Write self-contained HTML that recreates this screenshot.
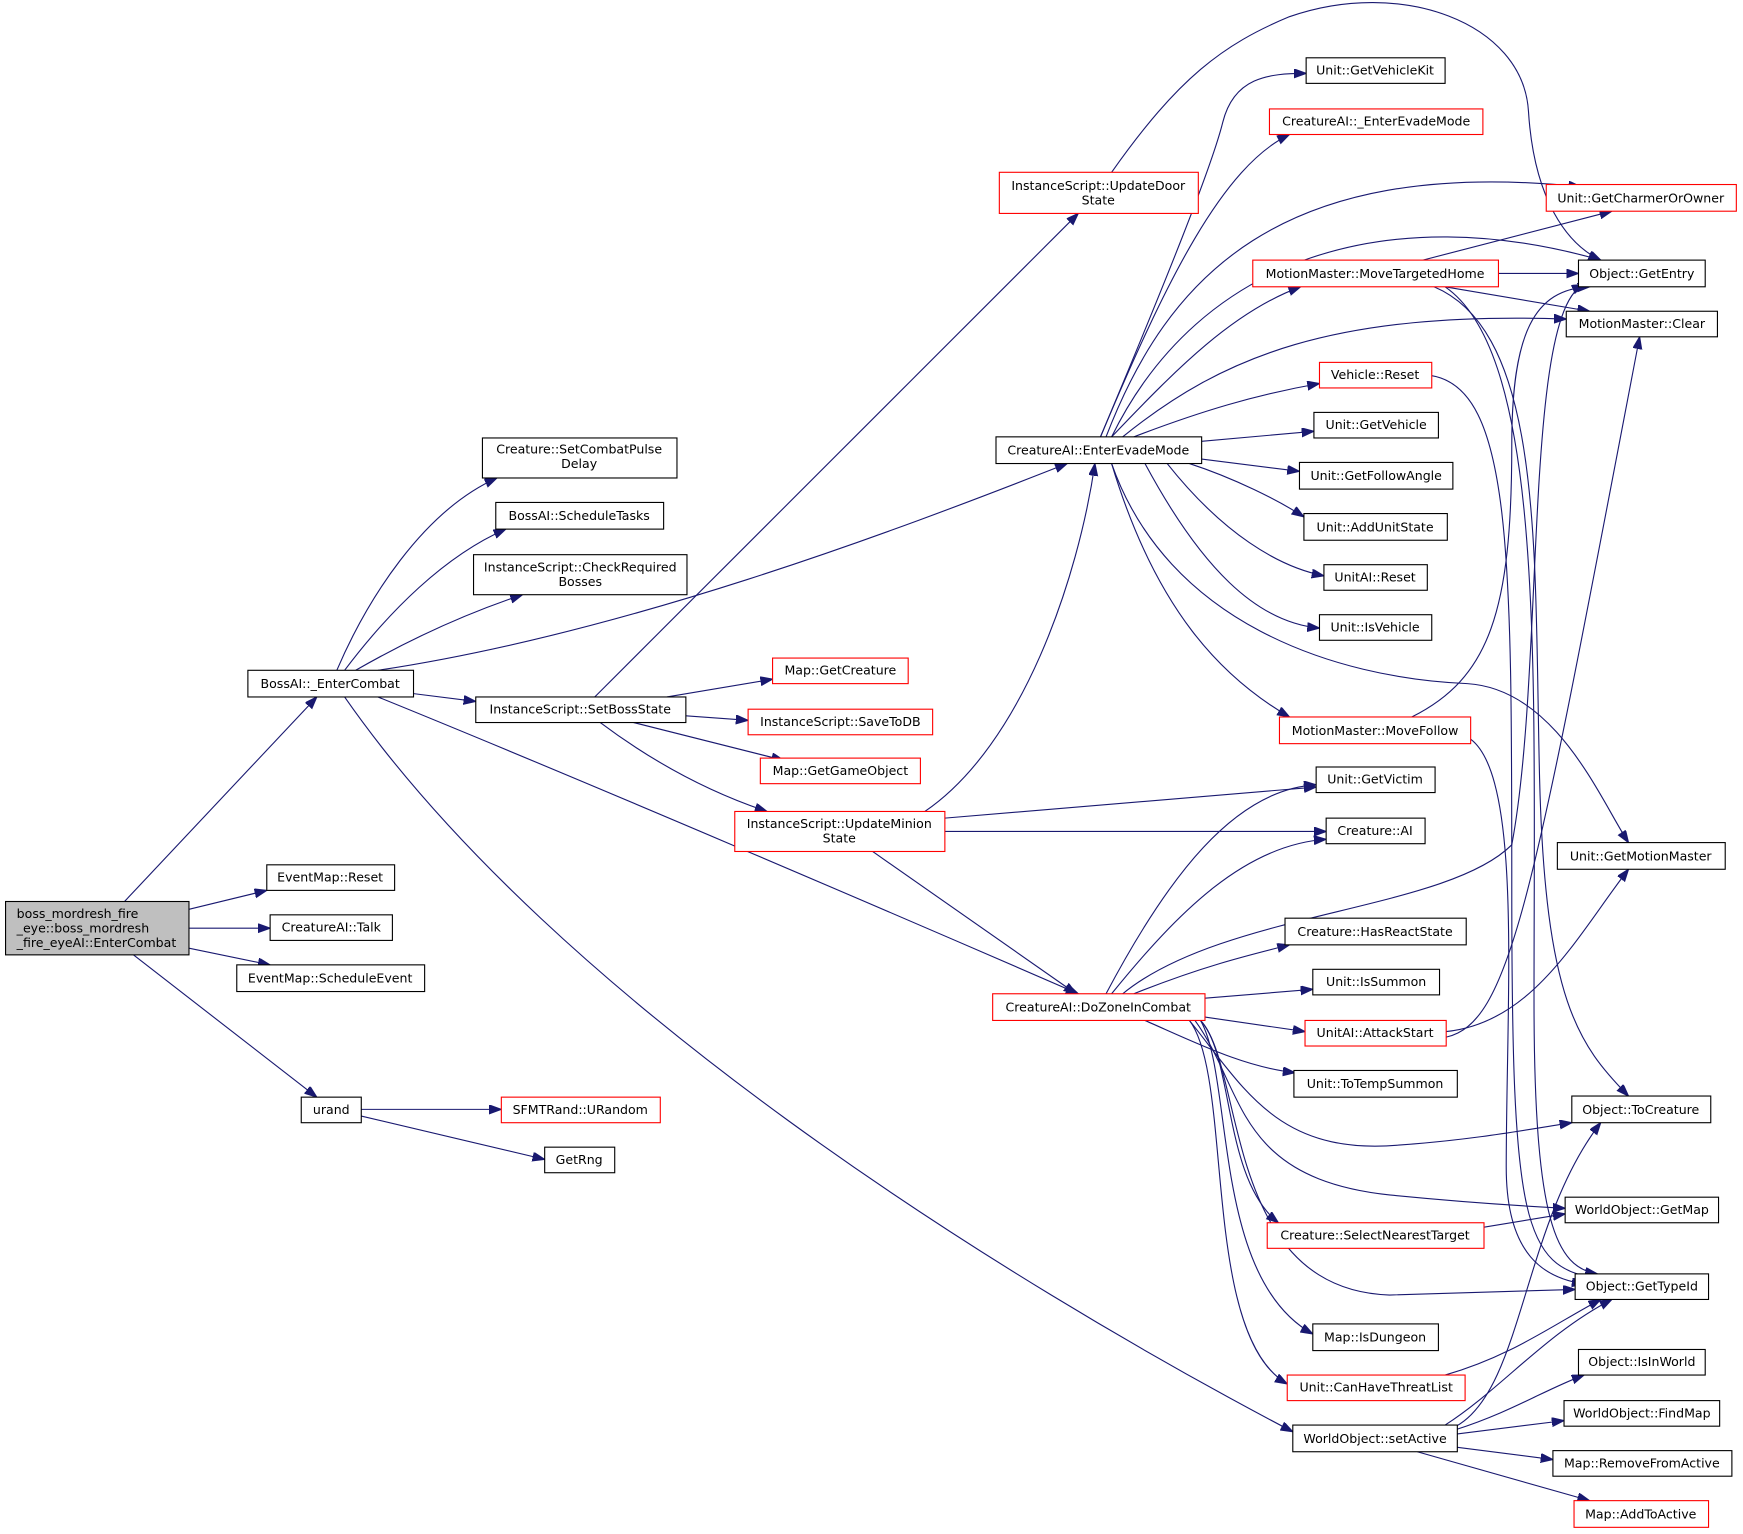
<!DOCTYPE html>
<html><head><meta charset="utf-8"><style>
html,body{margin:0;padding:0;background:#fff;}
svg{display:block}
text{font-family:"DejaVu Sans","Liberation Sans",sans-serif;font-size:11.3px;fill:#000;text-anchor:middle}
.n{fill:#fff;stroke:#000;stroke-width:1}
.r{fill:#fff;stroke:#f00;stroke-width:1}
path.e{fill:none;stroke:#191970;stroke-width:1}
</style></head><body>
<svg width="1743" height="1534" viewBox="0 0 1568 1380" preserveAspectRatio="none" xmlns="http://www.w3.org/2000/svg">
<defs><marker id="a" markerUnits="userSpaceOnUse" markerWidth="12" markerHeight="10" refX="11" refY="4" orient="auto"><path d="M0,0 L11,4 L0,8 z" fill="#191970" stroke="#191970"/></marker></defs>
<g marker-end="url(#a)">
<path class="e" d="M112,811 L285,627"/>
<path class="e" d="M170,818 L240,801"/>
<path class="e" d="M170,835 L243,835"/>
<path class="e" d="M170,853 L243,868"/>
<path class="e" d="M120,859 L285,987"/>
<path class="e" d="M325,998 L451,998"/>
<path class="e" d="M325,1004 L490,1043"/>
<path class="e" d="M303,603 C330,540 380,460 447,430"/>
<path class="e" d="M310,603 C350,550 400,500 455,476"/>
<path class="e" d="M320,603 C360,580 410,555 470,535"/>
<path class="e" d="M340,603 C560,570 800,480 960,417"/>
<path class="e" d="M372,624 L428,631"/>
<path class="e" d="M340,627 C520,700 800,820 970,894"/>
<path class="e" d="M310,627 C500,900 900,1150 1163,1288"/>
<path class="e" d="M535,627 L970,192"/>
<path class="e" d="M600,627 L695,611"/>
<path class="e" d="M617,644 L673,648"/>
<path class="e" d="M570,650 L705,684"/>
<path class="e" d="M540,650 C580,680 630,710 690,730"/>
<path class="e" d="M1000,155 C1060,70 1100,40 1160,15 C1260,-20 1370,20 1375,100 C1380,180 1410,220 1440,234"/>
<path class="e" d="M832,730 C920,670 970,520 985,417"/>
<path class="e" d="M850,736 L1184,708"/>
<path class="e" d="M850,748 L1193,748"/>
<path class="e" d="M785,766 L968,894"/>
<path class="e" d="M990,393 C1050,250 1090,150 1100,110 C1110,70 1140,66 1175,66"/>
<path class="e" d="M990,393 C1050,250 1100,150 1160,121"/>
<path class="e" d="M995,393 C1050,250 1150,140 1422,168"/>
<path class="e" d="M1000,393 C1080,230 1250,180 1440,234"/>
<path class="e" d="M1000,393 C1060,330 1110,280 1170,258"/>
<path class="e" d="M1010,393 C1100,320 1200,280 1409,287"/>
<path class="e" d="M1020,393 C1080,370 1130,355 1187,345"/>
<path class="e" d="M1081,397 L1182,388"/>
<path class="e" d="M1081,413 L1169,424"/>
<path class="e" d="M1070,417 C1110,430 1150,450 1173,465"/>
<path class="e" d="M1050,417 C1100,480 1150,510 1191,518"/>
<path class="e" d="M1030,417 C1080,510 1130,560 1187,565"/>
<path class="e" d="M1000,417 C1040,550 1100,610 1160,645"/>
<path class="e" d="M1000,417 C1050,560 1200,610 1320,615 C1400,620 1440,720 1465,758"/>
<path class="e" d="M1280,234 L1450,190"/>
<path class="e" d="M1348,246 L1420,246"/>
<path class="e" d="M1300,258 L1430,280"/>
<path class="e" d="M1290,258 C1390,300 1380,500 1385,700 C1390,900 1420,940 1465,986"/>
<path class="e" d="M1300,258 C1390,320 1380,600 1380,900 C1380,1100 1400,1140 1437,1146"/>
<path class="e" d="M1288,338 C1360,350 1360,500 1360,800 C1360,1100 1370,1140 1437,1150"/>
<path class="e" d="M1270,645 C1340,610 1360,550 1360,400 C1360,300 1380,260 1430,258"/>
<path class="e" d="M1323,665 C1370,700 1355,900 1355,1050 C1355,1130 1390,1150 1425,1155"/>
<path class="e" d="M995,894 C1050,790 1110,710 1184,706"/>
<path class="e" d="M1000,894 C1060,820 1120,760 1193,755"/>
<path class="e" d="M1010,894 C1100,820 1300,820 1360,760 C1390,600 1370,280 1425,256"/>
<path class="e" d="M1020,894 C1080,870 1120,860 1160,850"/>
<path class="e" d="M1084,898 L1181,890"/>
<path class="e" d="M1084,915 L1174,928"/>
<path class="e" d="M1030,918 C1080,940 1120,960 1165,965"/>
<path class="e" d="M1070,918 C1120,980 1150,1040 1260,1030 C1330,1025 1380,1015 1414,1010"/>
<path class="e" d="M1075,918 C1120,980 1110,1060 1250,1075 C1320,1082 1370,1085 1408,1087"/>
<path class="e" d="M1080,918 C1110,950 1100,1060 1150,1100"/>
<path class="e" d="M1080,918 C1120,960 1100,1160 1250,1165 L1417,1160"/>
<path class="e" d="M1080,918 C1110,970 1090,1150 1181,1200"/>
<path class="e" d="M1070,918 C1110,970 1080,1200 1158,1245"/>
<path class="e" d="M1301,928 C1380,920 1420,840 1465,782"/>
<path class="e" d="M1301,933 C1360,920 1380,800 1475,303"/>
<path class="e" d="M1335,1104 L1408,1092"/>
<path class="e" d="M1300,1237 C1360,1220 1400,1190 1440,1169"/>
<path class="e" d="M1310,1286 C1360,1270 1390,1250 1425,1237"/>
<path class="e" d="M1311,1290 L1407,1278"/>
<path class="e" d="M1311,1302 L1397,1313"/>
<path class="e" d="M1275,1306 L1430,1350"/>
<path class="e" d="M1310,1283 C1370,1250 1370,1100 1440,1010"/>
<path class="e" d="M1300,1282 C1350,1250 1390,1200 1450,1169"/>
</g>
<rect x="5" y="811" width="165" height="48" fill="#bfbfbf" stroke="#000"/>
<text x="15" y="826" style="text-anchor:start">boss_mordresh_fire</text>
<text x="15" y="839" style="text-anchor:start">_eye::boss_mordresh</text>
<text x="15" y="852" style="text-anchor:start">_fire_eyeAI::EnterCombat</text>
<g>
<rect class="n" x="240" y="778" width="115" height="23"/><text x="297" y="793">EventMap::Reset</text>
<rect class="n" x="243" y="823" width="110" height="23"/><text x="298" y="838">CreatureAI::Talk</text>
<rect class="n" x="213" y="868" width="169" height="24"/><text x="297" y="884">EventMap::ScheduleEvent</text>
<rect class="n" x="271" y="987" width="54" height="23"/><text x="298" y="1002">urand</text>
<rect class="r" x="451" y="987" width="143" height="23"/><text x="522" y="1002">SFMTRand::URandom</text>
<rect class="n" x="490" y="1032" width="63" height="23"/><text x="521" y="1047">GetRng</text>
<rect class="n" x="223" y="603" width="149" height="24"/><text x="297" y="619">BossAI::_EnterCombat</text>
<rect class="n" x="434" y="394" width="175" height="36"/><text x="521" y="408">Creature::SetCombatPulse</text><text x="521" y="421">Delay</text>
<rect class="n" x="446" y="452" width="151" height="24"/><text x="521" y="468">BossAI::ScheduleTasks</text>
<rect class="n" x="426" y="499" width="192" height="36"/><text x="522" y="514">InstanceScript::CheckRequired</text><text x="522" y="527">Bosses</text>
<rect class="n" x="428" y="627" width="189" height="23"/><text x="522" y="642">InstanceScript::SetBossState</text>
<rect class="r" x="899" y="155" width="179" height="37"/><text x="988" y="171">InstanceScript::UpdateDoor</text><text x="988" y="184">State</text>
<rect class="n" x="896" y="393" width="185" height="24"/><text x="988" y="409">CreatureAI::EnterEvadeMode</text>
<rect class="r" x="695" y="592" width="122" height="23"/><text x="756" y="607">Map::GetCreature</text>
<rect class="r" x="673" y="638" width="166" height="23"/><text x="756" y="653">InstanceScript::SaveToDB</text>
<rect class="r" x="684" y="682" width="144" height="23"/><text x="756" y="697">Map::GetGameObject</text>
<rect class="r" x="661" y="730" width="189" height="36"/><text x="755" y="745">InstanceScript::UpdateMinion</text><text x="755" y="758">State</text>
<rect class="r" x="893" y="894" width="191" height="24"/><text x="988" y="910">CreatureAI::DoZoneInCombat</text>
<rect class="n" x="1175" y="52" width="125" height="23"/><text x="1237" y="67">Unit::GetVehicleKit</text>
<rect class="r" x="1142" y="98" width="192" height="23"/><text x="1238" y="113">CreatureAI::_EnterEvadeMode</text>
<rect class="r" x="1391" y="166" width="171" height="24"/><text x="1476" y="182">Unit::GetCharmerOrOwner</text>
<rect class="r" x="1127" y="234" width="221" height="24"/><text x="1237" y="250">MotionMaster::MoveTargetedHome</text>
<rect class="n" x="1420" y="234" width="114" height="24"/><text x="1477" y="250">Object::GetEntry</text>
<rect class="n" x="1409" y="280" width="136" height="23"/><text x="1477" y="295">MotionMaster::Clear</text>
<rect class="r" x="1187" y="326" width="101" height="23"/><text x="1237" y="341">Vehicle::Reset</text>
<rect class="n" x="1182" y="371" width="112" height="23"/><text x="1238" y="386">Unit::GetVehicle</text>
<rect class="n" x="1169" y="416" width="138" height="24"/><text x="1238" y="432">Unit::GetFollowAngle</text>
<rect class="n" x="1173" y="462" width="129" height="24"/><text x="1237" y="478">Unit::AddUnitState</text>
<rect class="n" x="1191" y="508" width="93" height="23"/><text x="1237" y="523">UnitAI::Reset</text>
<rect class="n" x="1187" y="553" width="101" height="23"/><text x="1237" y="568">Unit::IsVehicle</text>
<rect class="r" x="1151" y="645" width="172" height="24"/><text x="1237" y="661">MotionMaster::MoveFollow</text>
<rect class="n" x="1184" y="690" width="107" height="23"/><text x="1237" y="705">Unit::GetVictim</text>
<rect class="n" x="1193" y="736" width="89" height="23"/><text x="1237" y="751">Creature::AI</text>
<rect class="n" x="1401" y="758" width="151" height="24"/><text x="1476" y="774">Unit::GetMotionMaster</text>
<rect class="n" x="1156" y="826" width="163" height="24"/><text x="1237" y="842">Creature::HasReactState</text>
<rect class="n" x="1181" y="872" width="114" height="23"/><text x="1238" y="887">Unit::IsSummon</text>
<rect class="r" x="1174" y="918" width="127" height="23"/><text x="1237" y="933">UnitAI::AttackStart</text>
<rect class="n" x="1164" y="963" width="147" height="24"/><text x="1237" y="979">Unit::ToTempSummon</text>
<rect class="n" x="1414" y="986" width="125" height="24"/><text x="1476" y="1002">Object::ToCreature</text>
<rect class="n" x="1408" y="1077" width="138" height="23"/><text x="1477" y="1092">WorldObject::GetMap</text>
<rect class="r" x="1140" y="1100" width="195" height="23"/><text x="1237" y="1115">Creature::SelectNearestTarget</text>
<rect class="n" x="1417" y="1146" width="120" height="23"/><text x="1477" y="1161">Object::GetTypeId</text>
<rect class="n" x="1181" y="1191" width="113" height="24"/><text x="1237" y="1207">Map::IsDungeon</text>
<rect class="r" x="1158" y="1237" width="160" height="23"/><text x="1238" y="1252">Unit::CanHaveThreatList</text>
<rect class="n" x="1420" y="1214" width="114" height="23"/><text x="1477" y="1229">Object::IsInWorld</text>
<rect class="n" x="1163" y="1282" width="148" height="24"/><text x="1237" y="1298">WorldObject::setActive</text>
<rect class="n" x="1407" y="1260" width="140" height="23"/><text x="1477" y="1275">WorldObject::FindMap</text>
<rect class="n" x="1397" y="1305" width="161" height="23"/><text x="1477" y="1320">Map::RemoveFromActive</text>
<rect class="r" x="1416" y="1350" width="121" height="24"/><text x="1476" y="1366">Map::AddToActive</text>
</g>
</svg>
</body></html>
